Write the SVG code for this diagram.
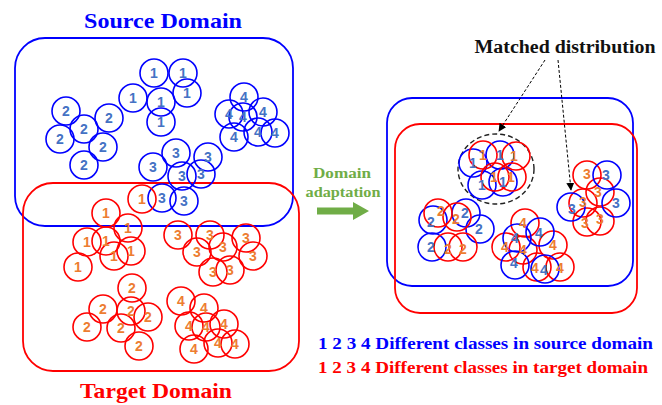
<svg xmlns="http://www.w3.org/2000/svg" width="662" height="405" viewBox="0 0 662 405">
<defs>
<style>
.bs{fill:none;stroke:#0000ff;stroke-width:1.6}
.rs{fill:none;stroke:#ff0000;stroke-width:1.6}
.bb{fill:none;stroke:#0000ff;stroke-width:1.8}
.rb{fill:none;stroke:#ff0000;stroke-width:1.8}
.bl{font-family:"Liberation Sans",Arial,sans-serif;font-weight:bold;font-size:14px;fill:#4472c4;text-anchor:middle}
.ol{font-family:"Liberation Sans",Arial,sans-serif;font-weight:bold;font-size:14px;fill:#ed7d31;text-anchor:middle}
.title{font-family:"Liberation Serif","Times New Roman",serif;font-weight:bold}
.dash{fill:none;stroke:#000;stroke-width:1;stroke-dasharray:3,2}
</style>
<marker id="ah" viewBox="0 0 10 10" refX="9" refY="5" markerWidth="8" markerHeight="8" orient="auto" markerUnits="userSpaceOnUse">
<path d="M0,0 L10,5 L0,10 z" fill="#000"/>
</marker>
</defs>
<rect width="662" height="405" fill="#fff"/>

<g id="source-domain">
<rect class="bb" x="15" y="38" width="278" height="188" rx="30"/>
<text class="title" x="163" y="28" font-size="22" fill="#0000ff" text-anchor="middle" textLength="158" lengthAdjust="spacingAndGlyphs">Source Domain</text>
</g>
<g id="target-domain">
<rect class="rb" x="23" y="183" width="276" height="188" rx="30"/>
<text class="title" x="156" y="398" font-size="22" fill="#ff0000" text-anchor="middle" textLength="152" lengthAdjust="spacingAndGlyphs">Target Domain</text>
</g>

<g id="source-class-1">
<circle class="bs" cx="154" cy="73" r="14"/><circle class="bs" cx="183" cy="73" r="14"/><circle class="bs" cx="187" cy="93" r="14"/><circle class="bs" cx="133" cy="98" r="14"/><circle class="bs" cx="161" cy="102" r="14"/><circle class="bs" cx="161" cy="122" r="14"/>
<text class="bl" x="154" y="78">1</text><text class="bl" x="183" y="78">1</text><text class="bl" x="187" y="98">1</text><text class="bl" x="133" y="103">1</text><text class="bl" x="161" y="107">1</text><text class="bl" x="161" y="127">1</text>
</g>
<g id="source-class-2">
<circle class="bs" cx="66" cy="111" r="14"/><circle class="bs" cx="109" cy="118" r="14"/><circle class="bs" cx="84" cy="129" r="14"/><circle class="bs" cx="60" cy="139" r="14"/><circle class="bs" cx="103" cy="147" r="14"/><circle class="bs" cx="84" cy="165" r="14"/>
<text class="bl" x="66" y="116">2</text><text class="bl" x="109" y="123">2</text><text class="bl" x="84" y="134">2</text><text class="bl" x="60" y="144">2</text><text class="bl" x="103" y="152">2</text><text class="bl" x="84" y="170">2</text>
</g>
<g id="source-class-3">
<circle class="bs" cx="176" cy="153" r="14"/><circle class="bs" cx="208" cy="157" r="14"/><circle class="bs" cx="153" cy="167" r="14"/><circle class="bs" cx="182" cy="176" r="14"/><circle class="bs" cx="201" cy="174" r="14"/><circle class="bs" cx="162" cy="198" r="14"/><circle class="bs" cx="184" cy="201" r="14"/>
<text class="bl" x="176" y="158">3</text><text class="bl" x="208" y="162">3</text><text class="bl" x="153" y="172">3</text><text class="bl" x="182" y="181">3</text><text class="bl" x="201" y="179">3</text><text class="bl" x="162" y="203">3</text><text class="bl" x="184" y="206">3</text>
</g>
<g id="source-class-4">
<circle class="bs" cx="244" cy="97" r="14"/><circle class="bs" cx="229" cy="114" r="14"/><circle class="bs" cx="243" cy="117" r="14"/><circle class="bs" cx="263" cy="112" r="14"/><circle class="bs" cx="234" cy="137" r="14"/><circle class="bs" cx="258" cy="132" r="14"/><circle class="bs" cx="275" cy="133" r="14"/>
<text class="bl" x="244" y="102">4</text><text class="bl" x="229" y="119">4</text><text class="bl" x="243" y="122">4</text><text class="bl" x="263" y="117">4</text><text class="bl" x="234" y="142">4</text><text class="bl" x="258" y="137">4</text><text class="bl" x="275" y="138">4</text>
</g>

<g id="target-class-1">
<circle class="rs" cx="142" cy="199" r="14"/><circle class="rs" cx="106" cy="213" r="14"/><circle class="rs" cx="128" cy="228" r="14"/><circle class="rs" cx="87" cy="242" r="14"/><circle class="rs" cx="106" cy="241" r="14"/><circle class="rs" cx="114" cy="256" r="14"/><circle class="rs" cx="131" cy="251" r="14"/><circle class="rs" cx="78" cy="267" r="14"/>
<text class="ol" x="142" y="204">1</text><text class="ol" x="106" y="218">1</text><text class="ol" x="128" y="233">1</text><text class="ol" x="87" y="247">1</text><text class="ol" x="106" y="246">1</text><text class="ol" x="114" y="261">1</text><text class="ol" x="131" y="256">1</text><text class="ol" x="78" y="272">1</text>
</g>
<g id="target-class-3">
<circle class="rs" cx="178" cy="235" r="14"/><circle class="rs" cx="210" cy="235" r="14"/><circle class="rs" cx="197" cy="252" r="14"/><circle class="rs" cx="223" cy="247" r="14"/><circle class="rs" cx="246" cy="238" r="14"/><circle class="rs" cx="253" cy="256" r="14"/><circle class="rs" cx="213" cy="272" r="14"/><circle class="rs" cx="230" cy="270" r="14"/>
<text class="ol" x="178" y="240">3</text><text class="ol" x="210" y="240">3</text><text class="ol" x="197" y="257">3</text><text class="ol" x="223" y="252">3</text><text class="ol" x="246" y="243">3</text><text class="ol" x="253" y="261">3</text><text class="ol" x="213" y="277">3</text><text class="ol" x="230" y="275">3</text>
</g>
<g id="target-class-2">
<circle class="rs" cx="132" cy="288" r="14"/><circle class="rs" cx="103" cy="309" r="14"/><circle class="rs" cx="131" cy="311" r="14"/><circle class="rs" cx="148" cy="317" r="14"/><circle class="rs" cx="87" cy="327" r="14"/><circle class="rs" cx="121" cy="328" r="14"/><circle class="rs" cx="139" cy="346" r="14"/>
<text class="ol" x="132" y="293">2</text><text class="ol" x="103" y="314">2</text><text class="ol" x="131" y="316">2</text><text class="ol" x="148" y="322">2</text><text class="ol" x="87" y="332">2</text><text class="ol" x="121" y="333">2</text><text class="ol" x="139" y="351">2</text>
</g>
<g id="target-class-4">
<circle class="rs" cx="181" cy="301" r="14"/><circle class="rs" cx="204" cy="308" r="14"/><circle class="rs" cx="189" cy="326" r="14"/><circle class="rs" cx="206" cy="327" r="14"/><circle class="rs" cx="224" cy="324" r="14"/><circle class="rs" cx="194" cy="349" r="14"/><circle class="rs" cx="218" cy="343" r="14"/><circle class="rs" cx="235" cy="344" r="14"/>
<text class="ol" x="181" y="306">4</text><text class="ol" x="204" y="313">4</text><text class="ol" x="189" y="331">4</text><text class="ol" x="206" y="332">4</text><text class="ol" x="224" y="329">4</text><text class="ol" x="194" y="354">4</text><text class="ol" x="218" y="348">4</text><text class="ol" x="235" y="349">4</text>
</g>

<g id="domain-adaptation">
<text class="title" x="342" y="178" font-size="15" fill="#70ad47" text-anchor="middle" textLength="58" lengthAdjust="spacingAndGlyphs">Domain</text>
<text class="title" x="343" y="197" font-size="15" fill="#70ad47" text-anchor="middle" textLength="75" lengthAdjust="spacingAndGlyphs">adaptation</text>
<polygon points="317,207.5 353,207.5 353,202 369,211 353,220 353,214.5 317,214.5" fill="#70ad47"/>
</g>

<g id="adapted-domain">
<rect class="bb" x="387" y="98" width="246" height="188" rx="25"/>
<rect class="rb" x="395" y="124" width="242" height="189" rx="25"/>
</g>

<g id="matched-class-1">
<ellipse cx="496" cy="169" rx="38" ry="35" fill="none" stroke="#222" stroke-width="1.4" stroke-dasharray="5,3"/>
<circle class="bs" cx="473" cy="163" r="14"/><circle class="bs" cx="500" cy="155" r="14"/><circle class="bs" cx="482" cy="185" r="14"/><circle class="bs" cx="503" cy="182" r="14"/>
<circle class="rs" cx="483" cy="155" r="14"/><circle class="rs" cx="516" cy="156" r="14"/><circle class="rs" cx="495" cy="177" r="14"/><circle class="rs" cx="512" cy="177" r="14"/>
<text class="bl" x="473" y="168">1</text><text class="bl" x="500" y="160">1</text><text class="bl" x="482" y="190">1</text><text class="bl" x="503" y="187">1</text>
<text class="ol" x="483" y="160">1</text><text class="ol" x="514" y="161">1</text><text class="ol" x="494" y="182">1</text><text class="ol" x="511" y="182">1</text>
</g>
<g id="matched-class-2">
<circle class="bs" cx="433" cy="220" r="14"/><circle class="bs" cx="466" cy="213" r="14"/><circle class="bs" cx="480" cy="229" r="14"/><circle class="bs" cx="432" cy="247" r="14"/>
<circle class="rs" cx="438" cy="213" r="14"/><circle class="rs" cx="457" cy="217" r="14"/><circle class="rs" cx="448" cy="247" r="14"/><circle class="rs" cx="463" cy="247" r="14"/>
<text class="ol" x="441" y="216">2</text><text class="ol" x="456" y="224">2</text><text class="ol" x="448" y="254">2</text><text class="ol" x="463" y="254">2</text>
<text class="bl" x="431" y="227">2</text><text class="bl" x="465" y="218">2</text><text class="bl" x="479" y="234">2</text><text class="bl" x="431" y="252">2</text>
</g>
<g id="matched-class-4">
<circle class="rs" cx="525" cy="223" r="14"/><circle class="rs" cx="506" cy="247" r="14"/><circle class="rs" cx="553" cy="245" r="14"/><circle class="rs" cx="523" cy="250" r="14"/><circle class="rs" cx="537" cy="267" r="14"/><circle class="rs" cx="560" cy="267" r="14"/>
<circle class="bs" cx="517" cy="238" r="14"/><circle class="bs" cx="540" cy="232" r="14"/><circle class="bs" cx="515" cy="265" r="14"/><circle class="bs" cx="545" cy="269" r="14"/>
<text class="ol" x="523" y="228">4</text><text class="ol" x="505" y="252">4</text><text class="ol" x="523" y="255">4</text><text class="ol" x="553" y="250">4</text><text class="ol" x="535" y="273">4</text><text class="ol" x="560" y="273">4</text>
<text class="bl" x="515" y="243">4</text><text class="bl" x="539" y="238">4</text><text class="bl" x="514" y="268">4</text><text class="bl" x="544" y="275">4</text>
</g>
<g id="matched-class-3">
<circle class="rs" cx="587" cy="175" r="14"/><circle class="rs" cx="600" cy="192" r="14"/><circle class="rs" cx="583" cy="203" r="14"/><circle class="rs" cx="587" cy="222" r="14"/><circle class="rs" cx="600" cy="221" r="14"/>
<circle class="bs" cx="607" cy="175" r="14"/><circle class="bs" cx="571" cy="207" r="14"/><circle class="bs" cx="616" cy="203" r="14"/>
<text class="ol" x="587" y="179">3</text><text class="ol" x="598" y="197">3</text><text class="ol" x="583" y="207">3</text><text class="ol" x="585" y="228">3</text><text class="ol" x="600" y="224">3</text>
<text class="bl" x="606" y="180">3</text><text class="bl" x="572" y="214">3</text><text class="bl" x="616" y="208">3</text>
</g>

<g id="matched-label">
<text class="title" x="565" y="53" font-size="18" fill="#111" text-anchor="middle" textLength="181" lengthAdjust="spacingAndGlyphs">Matched distribution</text>
</g>

<g id="connectors">
<line class="dash" x1="545" y1="60" x2="499" y2="131" marker-end="url(#ah)"/>
<line class="dash" x1="558" y1="60" x2="571" y2="190" marker-end="url(#ah)"/>
</g>

<g id="legend">
<text class="title" x="318" y="349" font-size="17" fill="#0000ff" textLength="335" lengthAdjust="spacingAndGlyphs">1 2 3 4 Different classes in source domain</text>
<text class="title" x="318" y="373" font-size="17" fill="#ff0000" textLength="330" lengthAdjust="spacingAndGlyphs">1 2 3 4 Different classes in target domain</text>
</g>
</svg>
